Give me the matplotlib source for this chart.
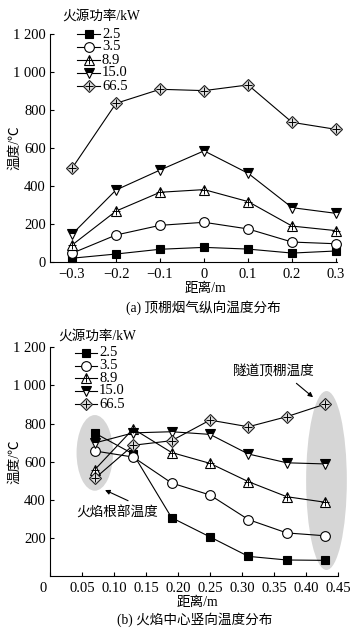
import matplotlib
matplotlib.use('Agg')
import matplotlib.pyplot as plt
from matplotlib.patches import Ellipse
from matplotlib.transforms import ScaledTranslation

plt.rcParams['font.family'] = ['Liberation Serif', 'Noto Sans CJK SC']
plt.rcParams['axes.unicode_minus'] = True

# ---------------- data ----------------
power_labels = ['2.5', '3.5', '8.9', '15.0', '66.5']

x_a = [-0.3, -0.2, -0.1, 0.0, 0.1, 0.2, 0.3]
a_25 = [20, 42, 67, 77, 68, 47, 58]
a_35 = [46, 142, 193, 209, 174, 105, 96]
a_89 = [89, 268, 367, 381, 318, 189, 165]
a_150 = [146, 379, 484, 585, 467, 286, 256]
a_665 = [493, 835, 909, 902, 932, 735, 698]

x_b = [0.07, 0.13, 0.19, 0.25, 0.31, 0.37, 0.43]
b_25 = [750, 640, 306, 205, 103, 84, 82]
b_35 = [656, 624, 488, 425, 296, 226, 211]
b_89 = [558, 772, 648, 591, 495, 416, 387]
b_150 = [698, 751, 757, 743, 640, 594, 588]
b_665 = [512, 686, 710, 818, 783, 836, 902]

xa_ticks = [-0.3, -0.2, -0.1, 0.0, 0.1, 0.2, 0.3]
xa_ticklabels = ['\u22120.3', '\u22120.2', '\u22120.1', '0', '0.1', '0.2', '0.3']
xb_ticks = [0, 0.05, 0.10, 0.15, 0.20, 0.25, 0.30, 0.35, 0.40, 0.45]
xb_ticklabels = ['0', '0.05', '0.10', '0.15', '0.20', '0.25', '0.30', '0.35', '0.40', '0.45']
ya_ticks = [0, 200, 400, 600, 800, 1000, 1200]
ya_ticklabels = ['0', '200', '400', '600', '800', '1 000', '1 200']
yb_ticks = [200, 400, 600, 800, 1000, 1200]
yb_ticklabels = ['200', '400', '600', '800', '1 000', '1 200']

# ---------------- styles ----------------
NUM_FS = 10.5
CJK_FS = 9.8
styles = [
    dict(marker='s', ms=6, mfc='black', mec='black', mew=0.8),
    dict(marker='o', ms=7, mfc='white', mec='black', mew=0.8),
    dict(marker='^', ms=7.5, mfc='white', mec='black', mew=0.8),
    dict(marker='v', ms=7.5, mfc='black', mec='black', mew=0.8,
         fillstyle='top', markerfacecoloralt='white'),
    dict(marker='D', ms=6.3, mfc='#dcdcdc', mec='#222222', mew=0.8),
]
plus_overlay = [None, None, 5.2, None, 6.3]

W, H = 361, 631
fig = plt.figure(figsize=(W / 100, H / 100), dpi=100)


def px_axes(l, t, r, b):
    return fig.add_axes([l / W, 1 - b / H, (r - l) / W, (b - t) / H])


ax1 = px_axes(50, 34, 337, 262)
ax2 = px_axes(50, 347.3, 338, 576)


def draw_series(ax, x, ys):
    for i, y in enumerate(ys):
        ax.plot(x, y, color='black', lw=0.8, zorder=3, clip_on=False, **styles[i])
        if plus_overlay[i]:
            ax.plot(x, y, ls='none', marker='+', ms=plus_overlay[i], mec='black',
                    mew=0.7, zorder=4, clip_on=False)


def style_axes(ax):
    for s in ['top', 'right']:
        ax.spines[s].set_visible(False)
    for s in ['left', 'bottom']:
        ax.spines[s].set_linewidth(0.8)
    ax.tick_params(direction='in', length=3, width=0.8, labelsize=NUM_FS)
    ax.tick_params(axis='y', pad=3)
    ax.tick_params(axis='x', pad=4)
    ax.patch.set_alpha(0)


def draw_legend(ax, l, t, r, b, title_xy, rows_y, hx0, hx1, tx):
    def fx(px):
        return (px - l) / (r - l)

    def fy(py):
        return (b - py) / (b - t)

    ax.text(fx(title_xy[0]), fy(title_xy[1]), '火源功率/kW', transform=ax.transAxes,
            ha='left', va='center', fontsize=CJK_FS)
    for i, py in enumerate(rows_y):
        ax.plot([fx(hx0), fx(hx1)], [fy(py), fy(py)], color='black', lw=0.8,
                transform=ax.transAxes, clip_on=False, zorder=5)
        ax.plot([fx((hx0 + hx1) / 2)], [fy(py)], transform=ax.transAxes,
                clip_on=False, zorder=6, ls='none', **styles[i])
        if plus_overlay[i]:
            ax.plot([fx((hx0 + hx1) / 2)], [fy(py)], transform=ax.transAxes, ls='none',
                    marker='+', ms=plus_overlay[i], mec='black', mew=0.7,
                    clip_on=False, zorder=7)
        ax.text(fx(tx), fy(py), power_labels[i], transform=ax.transAxes,
                ha='left', va='center', fontsize=NUM_FS)


# ---------------- (a) ----------------
style_axes(ax1)
draw_series(ax1, x_a, [a_25, a_35, a_89, a_150, a_665])
ax1.set_xlim(-0.35, 0.302)
ax1.set_ylim(0, 1200)
ax1.set_xticks(xa_ticks)
ax1.set_xticklabels(xa_ticklabels)
ax1.set_yticks(ya_ticks)
ax1.set_yticklabels(ya_ticklabels)
draw_legend(ax1, 50, 34, 337, 262, (62, 16), [34, 47, 60, 72.7, 86], 77, 100, 102)

# ---------------- (b) ----------------
style_axes(ax2)
ax2.add_patch(Ellipse((0.070, 646), 0.057, 397, facecolor='#d6d6d6', edgecolor='none',
                      zorder=1, clip_on=False))
ax2.add_patch(Ellipse((0.432, 501), 0.0636, 939, facecolor='#d6d6d6', edgecolor='none',
                      zorder=1, clip_on=False))
draw_series(ax2, x_b, [b_25, b_35, b_89, b_150, b_665])
ax2.set_xlim(0, 0.45)
ax2.set_ylim(0, 1200)
ax2.set_xticks(xb_ticks)
ax2.set_xticklabels(xb_ticklabels)
ax2.set_yticks(yb_ticks)
ax2.set_yticklabels(yb_ticklabels)
lab0 = ax2.get_xticklabels()[0]
lab0.set_transform(lab0.get_transform() + ScaledTranslation(-7 / 100, 0, fig.dpi_scale_trans))
draw_legend(ax2, 50, 347.3, 338, 576, (58, 336), [352.7, 365.7, 378, 391, 404], 75, 97, 99)

ax2.annotate('', xy=(0.411, 938), xytext=(0.385, 1011),
             arrowprops=dict(arrowstyle='-|>', color='black', lw=0.8,
                             mutation_scale=7, shrinkA=0, shrinkB=0), zorder=6)
ax2.text(0.35, 1070, '隧道顶棚温度', ha='center', va='center', fontsize=CJK_FS, zorder=6)
ax2.annotate('', xy=(0.086, 451), xytext=(0.122, 395),
             arrowprops=dict(arrowstyle='-|>', color='black', lw=0.8,
                             mutation_scale=7, shrinkA=0, shrinkB=0), zorder=6)
ax2.text(0.105, 330, '火焰根部温度', ha='center', va='center', fontsize=CJK_FS, zorder=6)


# ---------------- figure texts ----------------
def ftext(px, py, s, **kw):
    fig.text(px / W, 1 - py / H, s, ha='center', va='center', **kw)


ftext(15, 148, '温度/℃', rotation=90, fontsize=CJK_FS)
ftext(15, 462, '温度/℃', rotation=90, fontsize=CJK_FS)
ftext(205, 288, '距离/m', fontsize=CJK_FS)
ftext(197, 602, '距离/m', fontsize=CJK_FS)
ftext(203, 308, '(a) 顶棚烟气纵向温度分布', fontsize=CJK_FS)
ftext(195, 620, '(b) 火焰中心竖向温度分布', fontsize=CJK_FS)

fig.savefig('out.png', dpi=100, facecolor='white')
